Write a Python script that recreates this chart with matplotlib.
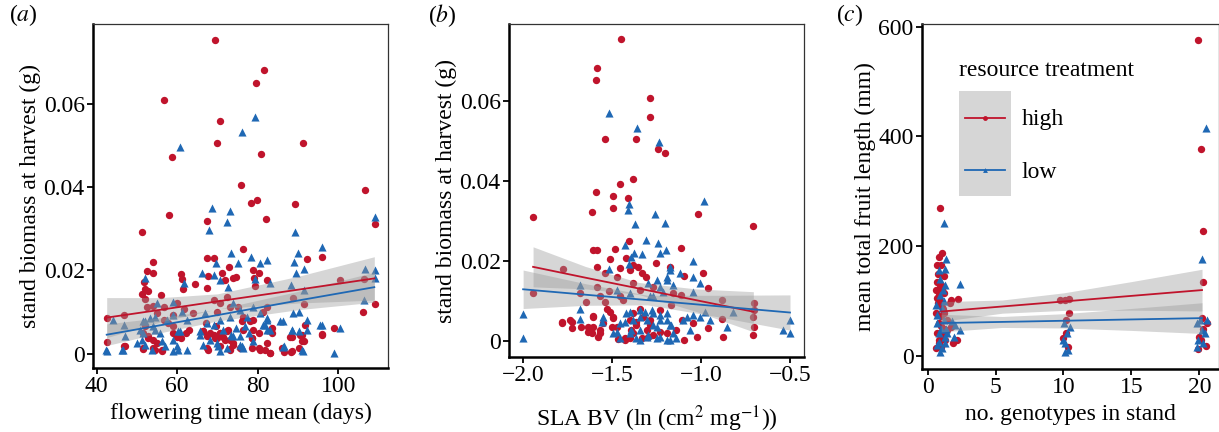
import numpy as np
import matplotlib
matplotlib.use("Agg")
import matplotlib.pyplot as plt
from matplotlib.lines import Line2D
from matplotlib.patches import Rectangle
from matplotlib.legend_handler import HandlerBase

plt.rcParams['font.family'] = ['Liberation Serif', 'DejaVu Serif']
plt.rcParams['mathtext.fontset'] = 'stix'

RED = '#C0142C'
BLUE = '#1F68B4'

# ---- panel (a): flowering time vs stand biomass
a_high_x = [69.4, 81.6, 79.6, 56.6, 70.6, 69.8, 91.3, 58.6, 80.7, 75.9, 78.2, 79.7, 89.3, 57.9, 82.0,
            67.3, 106.6, 109.0, 51.3, 76.2, 95.9, 92.1, 67.3, 69.0, 54.0, 52.5, 54.0, 61.0, 61.1, 51.7,
            71.0, 72.9, 71.9, 73.9, 74.7, 78.8, 80.4, 79.0, 82.3, 64.4, 67.7, 79.2, 100.4, 106.4, 106.2,
            109.0, 52.8, 51.2, 52.0, 51.9, 56.0, 67.5, 61.4, 42.5, 42.6, 46.9, 46.8, 52.4, 53.9, 56.6,
            54.9, 58.9, 59.9, 61.7, 56.6, 58.9, 62.1, 62.8, 61.0, 51.6, 52.8, 54.1, 51.6, 54.5, 56.1,
            54.9, 59.9, 64.0, 69.0, 69.8, 70.6, 72.3, 73.1, 75.2, 66.5, 67.3, 68.1, 69.0, 69.8, 70.6,
            71.4, 72.3, 73.1, 73.9, 67.3, 70.6, 73.1, 76.0, 76.4, 75.6, 78.5, 80.2, 80.2, 82.3, 83.1,
            81.9, 83.5, 78.8, 81.3, 82.2, 86.4, 88.2, 88.4, 88.8, 90.9, 91.5, 91.7, 91.5, 95.9, 99.0,
            51.5, 54.0, 56.1, 58.9, 66.4, 67.6, 69.3, 70.5, 71.8, 72.6, 73.8, 73.0, 67.2, 69.7, 51.9,
            52.7, 57.7, 47.0, 76.4, 78.1, 78.9, 78.5, 78.5, 80.6, 83.0, 83.5, 85.9, 88.4, 88.0, 90.5,
            90.9, 90.1, 95.9]
a_high_y = [0.0753, 0.0681, 0.0650, 0.0609, 0.0559, 0.0505, 0.0505, 0.0471, 0.0479, 0.0404, 0.0363,
            0.0369, 0.0360, 0.0333, 0.0323, 0.0319, 0.0393, 0.0312, 0.0292, 0.0251, 0.0233, 0.0227,
            0.0229, 0.0229, 0.0220, 0.0199, 0.0195, 0.0192, 0.0179, 0.0173, 0.0193, 0.0208, 0.0177,
            0.0181, 0.0185, 0.0201, 0.0193, 0.0181, 0.0177, 0.0168, 0.0187, 0.0163, 0.0177, 0.0179,
            0.0101, 0.0119, 0.0152, 0.0144, 0.0131, 0.0155, 0.0142, 0.0159, 0.0155, 0.0085, 0.0028,
            0.0093, 0.0018, 0.0113, 0.0115, 0.0113, 0.0097, 0.0093, 0.0121, 0.0107, 0.0082, 0.0066,
            0.0050, 0.0058, 0.0038, 0.0050, 0.0042, 0.0034, 0.0012, 0.0010, 0.0008, 0.0026, 0.0040,
            0.0097, 0.0129, 0.0101, 0.0121, 0.0137, 0.0113, 0.0113, 0.0054, 0.0042, 0.0050, 0.0046,
            0.0038, 0.0050, 0.0040, 0.0054, 0.0034, 0.0026, 0.0014, 0.0018, 0.0012, 0.0078, 0.0058,
            0.0014, 0.0038, 0.0050, 0.0014, 0.0026, 0.0002, 0.0010, 0.0050, 0.0082, 0.0101, 0.0113,
            0.0004, 0.0004, 0.0040, 0.0133, 0.0046, 0.0030, 0.0070, 0.0120, 0.0048, 0.0062,
            0.0014, 0.0014, 0.0010, 0.0050, 0.0054, 0.0010, 0.0038, 0.0050, 0.0034, 0.0058, 0.0022,
            0.0010, 0.0074, 0.0066, 0.0066, 0.0038, 0.0074, 0.0018, 0.0089, 0.0078, 0.0058, 0.0038,
            0.0014, 0.0010, 0.0002, 0.0062, 0.0014, 0.0006, 0.0040, 0.0046, 0.0030, 0.0014, 0.0046]
a_low_x = [60.7, 79.3, 76.1, 68.6, 73.1, 67.9, 72.3, 109.0, 89.3, 95.8, 89.9, 73.3, 75.2, 78.2, 80.6,
           82.2, 89.0, 91.5, 89.5, 69.5, 66.2, 69.0, 70.6, 72.7, 79.3, 83.1, 61.7, 51.9, 106.5, 109.0,
           109.0, 106.4, 88.2, 91.5, 86.3, 88.8, 90.2, 88.4, 92.2, 95.9, 100.4, 98.8, 91.3, 86.4, 82.2,
           81.4, 82.2, 80.6, 78.9, 77.2, 77.9, 75.6, 73.9, 73.1, 70.6, 69.0, 67.3, 66.9, 70.6, 72.3,
           73.9, 74.7, 76.0, 78.9, 66.3, 62.3, 60.0, 60.7, 59.0, 57.0, 55.7, 54.1, 53.2, 51.6, 50.8,
           51.2, 52.0, 49.9, 57.4, 59.0, 61.1, 62.3, 54.9, 46.8, 47.1, 42.5, 46.2, 65.6, 69.8, 53.7, 59.0,
           42.4, 46.5, 51.5, 54.4, 56.1, 60.2, 60.2, 65.6, 68.1, 70.1, 71.4, 73.4, 75.5, 75.5, 54.4,
           51.9, 59.0, 44.1, 81.8, 83.0, 82.2, 85.5, 88.4, 90.1, 92.1, 95.4, 90.9, 86.3, 76.4, 76.8]
a_low_y = [0.0497, 0.0569, 0.0531, 0.0349, 0.0342, 0.0297, 0.0317, 0.0328, 0.0292, 0.0257, 0.0242,
           0.0241, 0.0219, 0.0232, 0.0217, 0.0224, 0.0220, 0.0203, 0.0193, 0.0219, 0.0195, 0.0189,
           0.0176, 0.0161, 0.0179, 0.0171, 0.0171, 0.0183, 0.0203, 0.0200, 0.0181, 0.0129, 0.0165,
           0.0153, 0.0079, 0.0097, 0.0101, 0.0058, 0.0082, 0.0070, 0.0062, 0.0003, 0.0006, 0.0020,
           0.0082, 0.0070, 0.0058, 0.0097, 0.0113, 0.0089, 0.0050, 0.0105, 0.0121, 0.0089, 0.0082,
           0.0070, 0.0074, 0.0097, 0.0006, 0.0014, 0.0042, 0.0062, 0.0018, 0.0030, 0.0022, 0.0010,
           0.0018, 0.0054, 0.0034, 0.0018, 0.0050, 0.0066, 0.0086, 0.0078, 0.0058, 0.0034, 0.0022,
           0.0026, 0.0082, 0.0125, 0.0101, 0.0082, 0.0121, 0.0070, 0.0042, 0.0008, 0.0010, 0.0046,
           0.0026, 0.0010, 0.0006,
           0.0010, 0.0010, 0.0050, 0.0058, 0.0030, 0.0010, 0.0054, 0.0054, 0.0034, 0.0018, 0.0058,
           0.0046, 0.0022, 0.0042, 0.0089, 0.0078, 0.0093, 0.0082, 0.0070, 0.0058, 0.0086, 0.0078,
           0.0058, 0.0054, 0.0058, 0.0070, 0.0010, 0.0016, 0.0014, 0.0066]

# linear fits and 95% bands
a_fit_x = [42.5, 56, 70, 90, 108.9]
a_high_fit = [0.0087, 0.0106, 0.0126, 0.0154, 0.0181]
a_high_lo = [0.0039, 0.0077, 0.0108, 0.0122, 0.0129]
a_high_hi = [0.0135, 0.0135, 0.0144, 0.0186, 0.0233]
a_low_fit = [0.0046, 0.0069, 0.0093, 0.0128, 0.0160]
a_low_lo = [0.0020, 0.0051, 0.0079, 0.0106, 0.0124]
a_low_hi = [0.0072, 0.0087, 0.0107, 0.0150, 0.0196]

# ---- panel (b): SLA breeding value vs stand biomass
b_high_x = [-1.451, -1.584, -1.588, -1.287, -1.287, -1.541, -1.363, -1.244, -1.203, -1.381, -1.456,
            -1.588, -1.494, -1.409, -1.494, -1.614, -1.019, -1.944, -0.710, -1.404, -1.606, -1.584,
            -1.484, -1.113, -1.419, -1.509, -1.381, -1.354, -1.334, -1.310, -1.400, -1.456, -1.582,
            -1.541, -1.252, -1.177, -1.098, -0.987, -1.775, -1.586, -1.519, -1.475, -1.381, -1.269,
            -1.944, -1.681, -1.569, -1.456, -1.344, -1.159, -1.113, -0.959, -0.884, -0.703, -0.703,
            -0.706, -0.703, -0.710, -0.884, -0.879, -0.959, -1.024, -1.098, -1.043, -1.109, -1.138,
            -1.194, -1.231, -1.269, -1.297, -1.288, -1.325, -1.363, -1.391, -1.400, -1.428, -1.466,
            -1.475, -1.494, -1.513, -1.550, -1.569, -1.578, -1.612, -1.634, -1.606, -1.728, -1.781,
            -1.728, -1.381, -1.344, -1.438, -1.541, -1.644, -1.231, -1.166,
            -1.531, -1.494, -1.503, -1.606, -1.606, -1.569, -1.400, -1.363, -1.381, -1.334, -1.306,
            -1.287, -1.428, -1.738, -1.784, -1.672, -1.634]
b_high_y = [0.0753, 0.0680, 0.0651, 0.0607, 0.0559, 0.0505, 0.0505, 0.0480, 0.0470, 0.0404, 0.0391,
            0.0371, 0.0361, 0.0358, 0.0333, 0.0322, 0.0317, 0.0310, 0.0288, 0.0250, 0.0227, 0.0227,
            0.0229, 0.0233, 0.0206, 0.0204, 0.0189, 0.0185, 0.0169, 0.0160, 0.0177, 0.0181, 0.0185,
            0.0169, 0.0194, 0.0185, 0.0162, 0.0169, 0.0179, 0.0134, 0.0125, 0.0159, 0.0144, 0.0135,
            0.0119, 0.0119, 0.0111, 0.0111, 0.0127, 0.0119, 0.0115, 0.0131, 0.0102, 0.0094, 0.0077,
            0.0061, 0.0036, 0.0015, 0.0054, 0.0011, 0.0032, 0.0011, 0.0002, 0.0044, 0.0052, 0.0027,
            0.0019, 0.0023, 0.0015, 0.0011, 0.0040, 0.0061, 0.0048, 0.0027, 0.0007, 0.0002, 0.0004,
            0.0036, 0.0057, 0.0073, 0.0044, 0.0027, 0.0011, 0.0019, 0.0036, 0.0062, 0.0048, 0.0044,
            0.0032, 0.0069, 0.0081, 0.0102, 0.0098, 0.0098, 0.0077, 0.0090,
            0.0081, 0.0061, 0.0036, 0.0061, 0.0036, 0.0019, 0.0052, 0.0040, 0.0019, 0.0007, 0.0027,
            0.0052, 0.0007, 0.0052, 0.0048, 0.0036, 0.0023]
b_low_x = [-1.516, -1.359, -1.235, -0.984, -1.404, -1.409, -1.258, -1.201, -1.370, -1.310, -1.426,
           -1.241, -1.374, -1.334, -1.229, -1.199, -1.044, -1.516, -1.407, -1.177, -1.120, -1.044,
           -1.006, -1.297, -1.250, -1.194, -1.156, -1.212, -1.681, -1.475, -1.400, -1.269, -1.046,
           -2.000, -2.000, -1.681, -1.681, -1.550, -1.456, -1.419, -1.381, -1.344, -1.306, -1.269,
           -1.231, -1.194, -1.175, -1.156, -1.194, -1.138, -1.250, -1.306, -1.363, -1.456, -1.475,
           -1.081, -1.044, -1.006, -0.950, -0.978, -1.063, -1.100, -0.856, -0.819, -0.538, -0.500,
           -0.500, -1.344, -1.400, -1.269, -1.494,
           -1.400, -1.344, -1.316, -1.278, -1.231, -1.194, -1.166, -1.250, -1.297, -1.231, -1.175,
           -1.344, -1.391, -1.428, -1.559, -1.288, -1.231, -1.194, -1.175, -1.391]
b_low_y = [0.0568, 0.0532, 0.0497, 0.0350, 0.0343, 0.0327, 0.0318, 0.0295, 0.0293, 0.0253, 0.0239,
           0.0244, 0.0219, 0.0217, 0.0219, 0.0227, 0.0200, 0.0179, 0.0192, 0.0185, 0.0169, 0.0160,
           0.0145, 0.0145, 0.0152, 0.0160, 0.0140, 0.0123, 0.0140, 0.0127, 0.0119, 0.0111, 0.0122,
           0.0067, 0.0007, 0.0081, 0.0054, 0.0061, 0.0044, 0.0069, 0.0052, 0.0027, 0.0052, 0.0069,
           0.0052, 0.0069, 0.0040, 0.0019, 0.0002, 0.0007, 0.0007, 0.0011, 0.0007, 0.0007, 0.0023,
           0.0061, 0.0065, 0.0061, 0.0052, 0.0073, 0.0027, 0.0052, 0.0036, 0.0073, 0.0027, 0.0052,
           0.0019, 0.0077, 0.0019, 0.0040, 0.0019,
           0.0073, 0.0061, 0.0073, 0.0077, 0.0065, 0.0052, 0.0040, 0.0036, 0.0015, 0.0011, 0.0002,
           0.0002, 0.0027, 0.0048, 0.0048, 0.0111, 0.0135, 0.0152, 0.0177, 0.0210]

b_high_fit_x = [-1.944, -1.65, -1.35, -1.03, -0.706]
b_high_fit = [0.0185, 0.0158, 0.0131, 0.0102, 0.0073]
b_high_lo = [0.0135, 0.0130, 0.0116, 0.0074, 0.0023]
b_high_hi = [0.0235, 0.0186, 0.0146, 0.0130, 0.0123]
b_low_fit_x = [-2.0, -1.65, -1.3, -0.9, -0.5]
b_low_fit = [0.0129, 0.01155, 0.0102, 0.00865, 0.0071]
b_low_lo = [0.0081, 0.0089, 0.0090, 0.0060, 0.0027]
b_low_hi = [0.0177, 0.0143, 0.0114, 0.0114, 0.0115]

# ---- panel (c): number of genotypes vs fruit length (points jittered)
c_high_x = [0.93, 1.05, 0.81, 0.69, 0.98, 1.18, 0.69, 0.93, 0.64, 1.08, 0.81, 0.74, 1.05, 0.64, 0.98,
            0.81, 1.18, 0.69, 1.05, 0.81, 0.64, 0.98, 1.30, 1.42, 1.72, 2.21, 1.67, 1.86, 2.16, 1.72,
            1.42, 1.18, 9.76, 10.12, 10.44, 10.44, 9.95, 10.20, 10.37, 10.20, 19.88, 20.10, 20.29,
            20.29, 20.17, 20.54, 19.93, 20.10, 20.47, 20.29, 19.98,
            0.75, 0.90, 1.10, 0.70, 1.00, 0.85, 1.10, 0.95, 1.20]
c_high_y = [270, 187, 181, 166, 166, 145, 135, 126, 120, 120, 111, 96, 90, 78, 72, 60, 50, 41, 35, 23,
            14, 17, 29, 47, 102, 103, 96, 23, 29, 53, 66, 78, 102, 102, 103, 78, 32, 41, 17, 66, 576,
            377, 228, 134, 69, 60, 12, 30, 18, 50, 35,
            150, 100, 85, 105, 55, 30, 45, 130, 115]
c_low_x = [1.18, 1.35, 1.30, 0.81, 1.30, 2.40, 0.88, 0.64, 1.05, 1.18, 0.69, 0.81, 1.05, 0.93, 1.30,
           1.79, 2.03, 2.40, 1.96, 1.42, 0.69, 10.05, 10.24, 10.49, 10.12, 10.37, 10.12, 10.00, 20.49,
           20.17, 19.80, 20.17, 20.42, 19.93, 20.29, 19.80, 20.54, 20.05,
           0.90, 1.20, 0.70, 1.00, 1.25, 0.85, 1.10, 1.35]
c_low_y = [243, 176, 158, 157, 129, 131, 111, 93, 87, 66, 60, 41, 14, 8, 23, 63, 56, 47, 35, 41, 20,
           60, 41, 53, 23, 11, 8, 29, 415, 176, 60, 47, 41, 29, 23, 17, 66, 66,
           140, 100, 75, 50, 35, 25, 120, 50]

c_fit_x = [1, 5.5, 10, 15, 20.2]
c_high_fit = [81, 90.2, 99.3, 109.5, 120.1]
c_high_lo = [63, 78, 83, 83.5, 82]
c_high_hi = [99, 102, 115, 135.5, 158]
c_low_fit = [60, 62.1, 64.2, 66.6, 69]
c_low_lo = [44, 52, 51, 46.6, 41]
c_low_hi = [76, 72, 77, 86.6, 97]

a_xticks = [40, 60, 80, 100]
ab_yticks = [0, 0.02, 0.04, 0.06]
ab_yticklabels = ['0', '0.02', '0.04', '0.06']
b_xticks = [-2.0, -1.5, -1.0, -0.5]
b_xticklabels = ['\u22122.0', '\u22121.5', '\u22121.0', '\u22120.5']
c_xticks = [0, 5, 10, 15, 20]
c_yticks = [0, 200, 400, 600]


def style(ax):
    for s in ['left', 'bottom']:
        ax.spines[s].set_linewidth(1.8)
        ax.spines[s].set_color('black')
    for s in ['top', 'right']:
        ax.spines[s].set_linewidth(0.9)
        ax.spines[s].set_color('#333333')
    ax.tick_params(direction='out', length=4, width=1.3, labelsize=17, pad=2)


def smooth(ax, x, fit, lo, hi, color):
    ax.fill_between(x, lo, hi, color='#999999', alpha=0.4, lw=0, zorder=3)
    ax.plot(x, fit, color=color, lw=1.3, zorder=4)


def points(ax, hx, hy, lx, ly):
    ax.scatter(hx, hy, s=28, marker='o', color=RED, lw=0, zorder=2)
    ax.scatter(lx, ly, s=34, marker='^', color=BLUE, lw=0, zorder=2)


class KeyHandler(HandlerBase):
    # grey ggplot-style key box with a line and marker on it
    def create_artists(self, legend, orig_handle, xdescent, ydescent, width, height, fontsize, trans):
        extra = legend.labelspacing * fontsize
        bg = Rectangle((-xdescent, -ydescent - extra / 2), width, height + extra, facecolor='#D6D6D6',
                       edgecolor='none', transform=trans)
        pad = width * 0.11
        yc = height / 2 - ydescent
        ln = Line2D([-xdescent + pad, -xdescent + width - pad], [yc, yc], color=orig_handle.get_color(),
                    lw=1.3, transform=trans)
        mk = Line2D([-xdescent + width / 2], [yc], marker=orig_handle.get_marker(), ls='none',
                    color=orig_handle.get_color(), markersize=3.5, markeredgewidth=0, transform=trans)
        return [bg, ln, mk]


fig = plt.figure(figsize=(12.19, 4.32), dpi=100)

# (a)
ax1 = fig.add_axes([0.0763, 0.148, 0.242, 0.7963])
points(ax1, a_high_x, a_high_y, a_low_x, a_low_y)
smooth(ax1, a_fit_x, a_high_fit, a_high_lo, a_high_hi, RED)
smooth(ax1, a_fit_x, a_low_fit, a_low_lo, a_low_hi, BLUE)
ax1.set_xlim(39.1, 112.3)
ax1.set_ylim(-0.0034, 0.0791)
ax1.set_xticks(a_xticks)
ax1.set_yticks(ab_yticks, ab_yticklabels)
ax1.set_xlabel('flowering time mean (days)', fontsize=17, labelpad=4)
ax1.set_ylabel('stand biomass at harvest (g)', fontsize=17, labelpad=2)
style(ax1)

# (b)
ax2 = fig.add_axes([0.4176, 0.1736, 0.242, 0.7708])
points(ax2, b_high_x, b_high_y, b_low_x, b_low_y)
smooth(ax2, b_high_fit_x, b_high_fit, b_high_lo, b_high_hi, RED)
smooth(ax2, b_low_fit_x, b_low_fit, b_low_lo, b_low_hi, BLUE)
ax2.set_xlim(-2.079, -0.421)
ax2.set_ylim(-0.0040, 0.0791)
ax2.set_xticks(b_xticks, b_xticklabels)
ax2.set_yticks(ab_yticks, ab_yticklabels)
ax2.set_xlabel('SLA BV (ln (cm$^{2}$ mg$^{-1}$))', fontsize=17, labelpad=12)
ax2.set_ylabel('stand biomass at harvest (g)', fontsize=17, labelpad=2)
style(ax2)

# (c)
ax3 = fig.add_axes([0.7564, 0.1458, 0.2436, 0.7986])
points(ax3, c_high_x, c_high_y, c_low_x, c_low_y)
smooth(ax3, c_fit_x, c_high_fit, c_high_lo, c_high_hi, RED)
smooth(ax3, c_fit_x, c_low_fit, c_low_lo, c_low_hi, BLUE)
ax3.set_xlim(-0.41, 21.45)
ax3.set_ylim(-23.7, 604.7)
ax3.set_xticks(c_xticks)
ax3.set_yticks(c_yticks)
ax3.set_xlabel('no. genotypes in stand', fontsize=17, labelpad=4)
ax3.set_ylabel('mean total fruit length (mm)', fontsize=17, labelpad=2)
style(ax3)

handles = [Line2D([], [], color=RED, marker='o'), Line2D([], [], color=BLUE, marker='^')]
leg = ax3.legend(handles, ['high', 'low'], title='resource treatment', handler_map={Line2D: KeyHandler()},
                 loc='upper left', bbox_to_anchor=(0.125, 0.895), frameon=False, fontsize=17,
                 title_fontsize=17, handlelength=2.2, handleheight=1.74, labelspacing=0.85,
                 handletextpad=0.45, borderpad=0, borderaxespad=0, alignment='left')

for lab, xpos in [('a', 0.019), ('b', 0.3626), ('c', 0.697)]:
    fig.text(xpos, 0.965, '($\\mathit{' + lab + '}$)', fontsize=17, ha='center', va='center')

fig.savefig('out.png', dpi=100)
